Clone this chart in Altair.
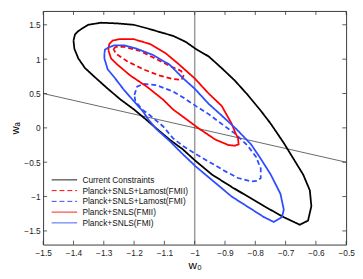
import altair as alt
import pandas as pd

# ---------------- data ----------------
series = [
    "Current Constraints",
    "Planck+SNLS+Lamost(FMII)",
    "Planck+SNLS+Lamost(FMI)",
    "Planck+SNLS(FMII)",
    "Planck+SNLS(FMI)",
]
colors = ["#000000", "#ff0000", "#2d4dff", "#ff0000", "#2d4dff"]
dashes = [[1, 0], [5, 3], [5, 3], [1, 0], [1, 0]]

cc_w0 = [-1.400, -1.395, -1.384, -1.352, -1.309, -1.255, -1.201, -1.158, -1.104, -1.072,
         -1.029, -0.997, -0.954, -0.911, -0.868, -0.825, -0.782, -0.749, -0.706, -0.674,
         -0.642, -0.620, -0.615, -0.626, -0.653, -0.706, -0.771, -0.878, -0.943, -1.000,
         -1.040, -1.083, -1.126, -1.163, -1.201, -1.244, -1.287, -1.330, -1.362, -1.384, -1.397]
cc_wa = [1.27, 1.36, 1.41, 1.50, 1.53, 1.52, 1.50, 1.45, 1.38, 1.34,
         1.25, 1.15, 1.04, 0.87, 0.69, 0.48, 0.25, 0.06, -0.22, -0.45,
         -0.68, -0.91, -1.14, -1.35, -1.41, -1.30, -1.14, -0.86, -0.68, -0.47,
         -0.31, -0.17, -0.01, 0.13, 0.27, 0.41, 0.57, 0.74, 0.87, 1.01, 1.15]

rd_w0 = [-1.268, -1.260, -1.233, -1.180, -1.126, -1.072, -1.045, -1.037, -1.043, -1.072,
         -1.115, -1.169, -1.223, -1.260]
rd_wa = [1.15, 1.18, 1.18, 1.12, 1.00, 0.88, 0.83, 0.76, 0.70, 0.71,
         0.76, 0.85, 0.97, 1.08]

bd_w0 = [-1.199, -1.190, -1.169, -1.126, -1.072, -1.034, -0.997, -0.954, -0.921, -0.868,
         -0.825, -0.798, -0.782, -0.782, -0.792, -0.814, -0.857, -0.900, -0.954, -0.997,
         -1.040, -1.072, -1.104, -1.147, -1.174, -1.196]
bd_wa = [0.48, 0.60, 0.64, 0.62, 0.53, 0.43, 0.32, 0.20, 0.09, -0.08,
         -0.26, -0.42, -0.59, -0.73, -0.77, -0.78, -0.73, -0.63, -0.49, -0.38,
         -0.26, -0.15, 0.02, 0.18, 0.27, 0.39]

r_w0 = [-1.285, -1.282, -1.271, -1.249, -1.201, -1.147, -1.094, -1.051, -1.000, -0.954,
        -0.911, -0.878, -0.866, -0.857, -0.855, -0.868, -0.889, -0.932, -0.986, -1.029,
        -1.072, -1.104, -1.158, -1.212, -1.255, -1.276]
r_wa = [1.13, 1.22, 1.27, 1.29, 1.29, 1.22, 1.08, 0.92, 0.72, 0.50,
        0.32, 0.06, -0.07, -0.15, -0.24, -0.26, -0.25, -0.17, -0.01, 0.13,
        0.27, 0.41, 0.60, 0.76, 0.92, 1.01]

b_w0 = [-1.298, -1.296, -1.285, -1.266, -1.233, -1.190, -1.137, -1.083, -1.038, -1.000,
        -0.954, -0.911, -0.862, -0.814, -0.782, -0.749, -0.717, -0.706, -0.712, -0.739,
        -0.771, -0.878, -0.997, -1.040, -1.083, -1.126, -1.153, -1.169, -1.201, -1.233,
        -1.266, -1.287, -1.298]
b_wa = [1.08, 1.14, 1.17, 1.20, 1.20, 1.15, 1.06, 0.92, 0.72, 0.57,
        0.35, 0.18, -0.02, -0.24, -0.45, -0.68, -0.96, -1.19, -1.30, -1.37,
        -1.30, -1.00, -0.56, -0.38, -0.19, -0.02, 0.12, 0.23, 0.39, 0.55,
        0.74, 0.85, 1.01]

vline_w0 = [-1.0]
diag_w0 = [-1.5, -0.5]
diag_wa = [0.5, -0.5]

x_ticks = [-1.5, -1.4, -1.3, -1.2, -1.1, -1.0, -0.9, -0.8, -0.7, -0.6, -0.5]
y_ticks = [-1.5, -1.0, -0.5, 0.0, 0.5, 1.0, 1.5]

# ---------------- build table ----------------
rows = []
for name, xs_, ys_ in zip(series,
                          [cc_w0, rd_w0, bd_w0, r_w0, b_w0],
                          [cc_wa, rd_wa, bd_wa, r_wa, b_wa]):
    xc = list(xs_) + [xs_[0]]
    yc = list(ys_) + [ys_[0]]
    for i, (a, b) in enumerate(zip(xc, yc)):
        rows.append({"series": name, "w0": a, "wa": b, "i": i})
df = pd.DataFrame(rows)

W, H = 310, 239
FONT = "Liberation Sans"
xsc = alt.Scale(domain=[-1.5, -0.5], nice=False, zero=False)
ysc = alt.Scale(domain=[-1.7, 1.7], nice=False, zero=False)

x_axis = alt.Axis(values=x_ticks, format="~g", title="w₀", ticks=False, domain=False,
                  grid=False, labelPadding=4, labelFontSize=8.5, labelFont=FONT,
                  labelColor="#222", titleFont=FONT, titleFontSize=12,
                  titleFontWeight="normal", titleBaseline="alphabetic", titleY=24,
                  labelFlush=False)
y_axis = alt.Axis(values=y_ticks, format="~g", title="wₐ", ticks=False, domain=False,
                  grid=False, labelPadding=3, labelFontSize=8.5, labelFont=FONT,
                  labelColor="#222", titleFont=FONT, titleFontSize=11.5,
                  titleFontWeight="normal", titleBaseline="alphabetic", titleX=-25,
                  labelFlush=False)

leg = alt.Legend(title=None, orient="none", legendX=16.7, legendY=167.7,
                 symbolType="M-3,0H3", symbolSize=75, symbolStrokeWidth=1,
                 labelFont=FONT, labelFontSize=8.5, labelColor="#111",
                 labelOffset=13.4, rowPadding=1, padding=0, labelLimit=200)

def X(field):
    return alt.X(field, scale=xsc, axis=x_axis, title="w₀")

def Y(field):
    return alt.Y(field, scale=ysc, axis=y_axis, title="wₐ")

contours = alt.Chart(df).mark_line(strokeWidth=1.8, clip=True).encode(
    x=X("w0:Q"),
    y=Y("wa:Q"),
    color=alt.Color("series:N", scale=alt.Scale(domain=series, range=colors), legend=leg),
    strokeDash=alt.StrokeDash("series:N", scale=alt.Scale(domain=series, range=dashes), legend=leg),
    order=alt.Order("i:Q"),
)

vline = alt.Chart(pd.DataFrame({"w0": vline_w0})).mark_rule(
    color="#9a9a9a", strokeWidth=1.5).encode(x=X("w0:Q"))

diag = alt.Chart(pd.DataFrame({"w0": diag_w0, "wa": diag_wa})).mark_line(
    color="#000", strokeWidth=0.6, clip=True).encode(x=X("w0:Q"), y=Y("wa:Q"))

xt = pd.DataFrame({"w0": x_ticks})
yt = pd.DataFrame({"wa": y_ticks})
TL = 4
tick_style = dict(color="#333", strokeWidth=0.8)
bt = alt.Chart(xt).mark_rule(**tick_style).encode(
    x=X("w0:Q"), y=alt.value(H), y2=alt.value(H - TL))
tt = alt.Chart(xt).mark_rule(**tick_style).encode(
    x=X("w0:Q"), y=alt.value(0), y2=alt.value(TL))
lt = alt.Chart(yt).mark_rule(**tick_style).encode(
    y=Y("wa:Q"), x=alt.value(0), x2=alt.value(TL))
rt = alt.Chart(yt).mark_rule(**tick_style).encode(
    y=Y("wa:Q"), x=alt.value(W), x2=alt.value(W - TL))

chart = alt.layer(vline, diag, contours, bt, tt, lt, rt).properties(
    width=W, height=H, autosize="none",
    padding={"left": 36, "top": 0, "right": 9, "bottom": 32},
).configure_view(stroke="#222", strokeWidth=0.9)

chart.save("out.html", embed_options={"renderer": "svg", "actions": False})
